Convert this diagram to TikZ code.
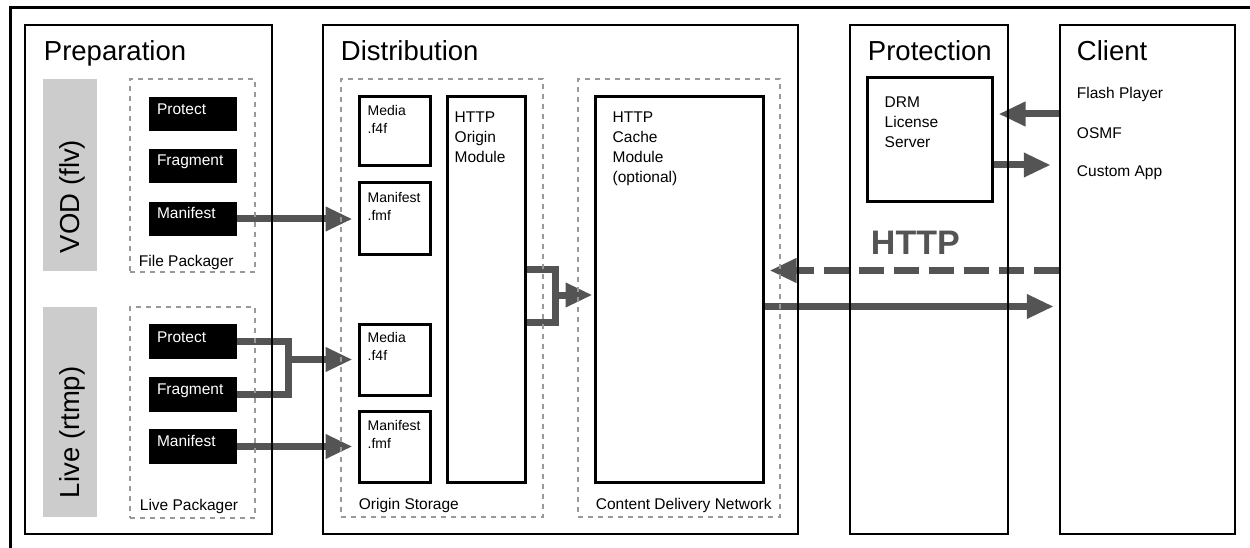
\documentclass[tikz,border=0pt]{standalone}
\usepackage{fontspec}
\setmainfont{Liberation Sans}
\usetikzlibrary{arrows.meta,positioning,fit,backgrounds}

\definecolor{flowgray}{HTML}{545454}
\definecolor{tabgray}{HTML}{CCCCCC}
\definecolor{dotgray}{HTML}{999999}

\tikzset{
  panel/.style={draw=black, line width=2.5pt, inner sep=0pt},
  group/.style={draw=dotgray, line width=2.6pt, dash pattern=on 5pt off 5pt, inner sep=0pt},
  tab/.style={fill=tabgray, inner sep=0pt},
  stepbox/.style={fill=black, inner sep=0pt},
  store/.style={draw=black, line width=3pt, inner sep=0pt},
  title/.style={inner sep=0pt, anchor=base west, font=\fontsize{27.5}{33}\selectfont},
  lbl/.style={inner sep=0pt, anchor=base west, font=\fontsize{15.5}{20}\selectfont},
  multi/.style={inner sep=0pt, anchor=north west, align=left, font=\fontsize{15.5}{20}\selectfont},
  small/.style={inner sep=0pt, anchor=north west, align=left, font=\fontsize{14}{17.7}\selectfont},
  flowline/.style={draw=flowgray, line width=7pt},
  flow/.style={flowline, -{Triangle[length=27pt,width=23pt]}, shorten >=5pt},
}

\begin{document}
\begin{tikzpicture}[x=1pt, y=-1pt]
  \useasboundingbox (0,0) rectangle (1250,548);
  % outer frame, cut at right and bottom
  \draw[line width=3pt] (10,548) -- (10,8) -- (1250,8);

  % columns
  \node[panel, fit={(25,25) (272,534)}] (prep) {};
  \node[panel, fit={(323,25) (798,534)}] (dist) {};
  \node[panel, fit={(850,25) (1008,534)}] (prot) {};
  \node[panel, fit={(1060,25) (1235,534)}] (client) {};
  \node[title] (prep-t) at ([shift={(20,37)}]prep.north west) {Preparation};
  \node[title] (dist-t) at ([shift={(19,37)}]dist.north west) {Distribution};
  \node[title] (prot-t) at ([shift={(19,37)}]prot.north west) {Protection};
  \node[title] (client-t) at ([shift={(18,37)}]client.north west) {Client};

  % Preparation: source tabs
  \node[tab, fit={(43,79) (97,271)}] (vodtab) {};
  \node[tab, fit={(43,307) (97,517)}] (livetab) {};
  \node[title, rotate=90] (vodtab-t) at ([shift={(37,-18)}]vodtab.south west) {VOD (flv)};
  \node[title, rotate=90] (livetab-t) at ([shift={(37,-19)}]livetab.south west) {Live (rtmp)};

  % Preparation: packagers
  \node[group, fit={(130,79) (255,272)}] (filepkg) {};
  \node[group, fit={(130,307) (255,518)}] (livepkg) {};
  \node[lbl] (filepkg-t) at ([shift={(10,-7)}]filepkg.south west) {File Packager};
  \node[lbl] (livepkg-t) at ([shift={(11,-9)}]livepkg.south west) {Live Packager};

  \node[stepbox, fit={(149,97) (237,131)}] (vodprotect) {};
  \node[stepbox, fit={(149,149) (237,183)}] (vodfragment) {};
  \node[stepbox, fit={(149,202) (237,236)}] (vodmanifest) {};
  \node[stepbox, fit={(149,324) (237,359)}] (liveprotect) {};
  \node[stepbox, fit={(149,377) (237,412)}] (livefragment) {};
  \node[stepbox, fit={(149,429) (237,464)}] (livemanifest) {};
  \node[lbl, text=white] (vodprotect-t) at ([shift={(8,18)}]vodprotect.north west) {Protect};
  \node[lbl, text=white] (vodfragment-t) at ([shift={(8,17)}]vodfragment.north west) {Fragment};
  \node[lbl, text=white] (vodmanifest-t) at ([shift={(8,17)}]vodmanifest.north west) {Manifest};
  \node[lbl, text=white] (liveprotect-t) at ([shift={(8,19)}]liveprotect.north west) {Protect};
  \node[lbl, text=white] (livefragment-t) at ([shift={(8,18)}]livefragment.north west) {Fragment};
  \node[lbl, text=white] (livemanifest-t) at ([shift={(8,18)}]livemanifest.north west) {Manifest};

  % Distribution: origin storage and CDN
  \node[group, fit={(341,79) (543,517)}] (originstore) {};
  \node[group, fit={(578,79) (780,517)}] (cdn) {};
  \node[lbl] (originstore-t) at ([shift={(19,-9)}]originstore.south west) {Origin Storage};
  \node[lbl] (cdn-t) at ([shift={(19,-9)}]cdn.south west) {Content Delivery Network};

  \node[store, fit={(359,97) (430,166)}] (vodmedia) {};
  \node[store, fit={(359,183) (430,254)}] (vodfmf) {};
  \node[store, fit={(359,324) (430,395)}] (livemedia) {};
  \node[store, fit={(359,411) (430,482)}] (livefmf) {};
  \node[small] (vodmedia-t) at ([shift={(10,10)}]vodmedia.north west) {Media\\.f4f};
  \node[small] (vodfmf-t) at ([shift={(10,11)}]vodfmf.north west) {Manifest\\.fmf};
  \node[small] (livemedia-t) at ([shift={(10,10)}]livemedia.north west) {Media\\.f4f};
  \node[small] (livefmf-t) at ([shift={(10,11)}]livefmf.north west) {Manifest\\.fmf};

  \node[store, fit={(447,97) (525,482)}] (originmod) {};
  \node[store, fit={(595,97) (763,482)}] (cachemod) {};
  \node[multi] (originmod-t) at ([shift={(9,16)}]originmod.north west) {HTTP\\Origin\\Module};
  \node[multi] (cachemod-t) at ([shift={(19,16)}]cachemod.north west) {HTTP\\Cache\\Module\\(optional)};

  % Protection
  \node[store, fit={(867,78) (992,202)}] (drm) {};
  \node[multi] (drm-t) at ([shift={(19,20)}]drm.north west) {DRM\\License\\Server};
  \node[inner sep=0pt, anchor=base west, text=flowgray, font=\bfseries\fontsize{34}{40}\selectfont]
    (http-t) at ([shift={(22,231)}]prot.north west) {HTTP};

  % Client
  \node[lbl] (flash) at ([shift={(18,75)}]client.north west) {Flash Player};
  \node[lbl] (osmf) at ([shift={(18,115)}]client.north west) {OSMF};
  \node[lbl] (customapp) at ([shift={(18,153)}]client.north west) {Custom App};

  % connectors, kept under the box outlines
  \begin{scope}[on background layer]
    \draw[flow] (vodmanifest.east) -- (vodmanifest.east -| vodfmf.west);
    \coordinate (livejoin) at ([xshift=51pt]liveprotect.east);
    \draw[flowline] (liveprotect.east) -| (livejoin |- livefragment.east) -- (livefragment.east);
    \draw[flow] (livejoin |- livemedia.west) -- (livemedia.west);
    \draw[flow] (livemanifest.east) -- (livemanifest.east -| livefmf.west);
    \coordinate (originjoin) at ([xshift=29pt, yshift=-5.5pt]originmod.east);
    \draw[flowline] ([yshift=20pt]originmod.east) -| (originjoin) |- ([yshift=-33pt]originmod.east);
    \draw[flow, shorten >=1pt] (originjoin) -- (originjoin -| cachemod.west);
    \draw[flow, dash pattern=on 25pt off 10pt] ([yshift=19pt]cachemod.east -| client.west) -- ([yshift=19pt]cachemod.east);
    \draw[flow] ([yshift=-17pt]cachemod.east) -- ([yshift=-17pt]cachemod.east -| client.west);
    \draw[flow] ([yshift=26pt]drm.east -| client.west) -- ([yshift=26pt]drm.east);
    \draw[flow, shorten >=8pt] ([yshift=-25pt]drm.east) -- ([yshift=-25pt]drm.east -| client.west);
  \end{scope}
\end{tikzpicture}
\end{document}
